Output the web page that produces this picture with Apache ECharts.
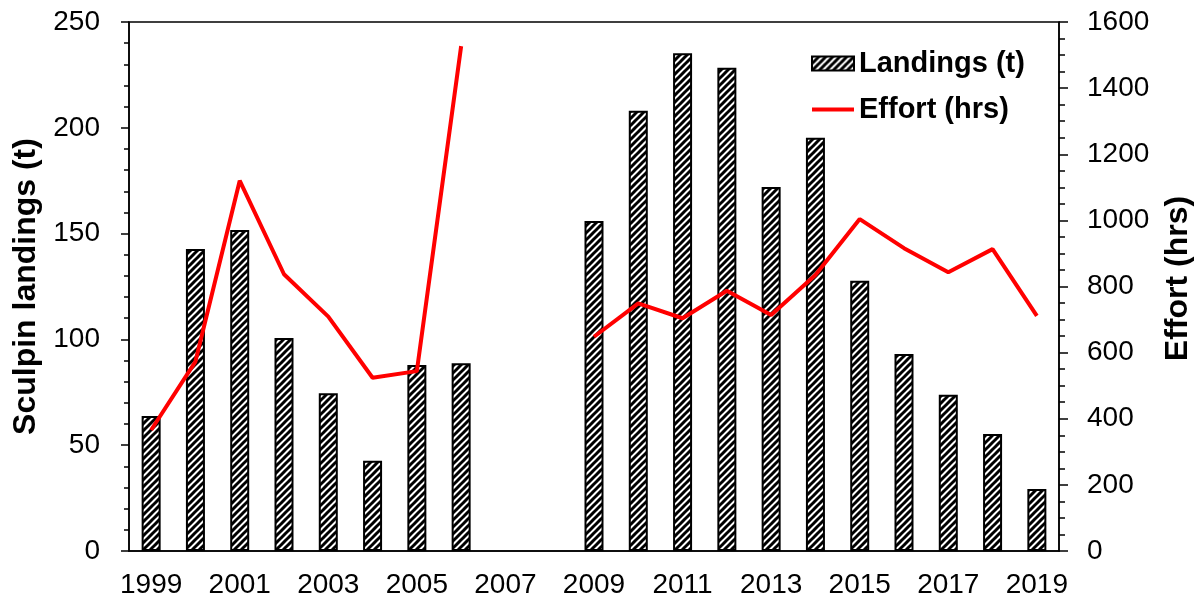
<!DOCTYPE html>
<html>
<head>
<meta charset="utf-8">
<script src="https://cdn.jsdelivr.net/npm/echarts@6/dist/echarts.min.js"></script>
<style>
html,body{margin:0;padding:0;background:#fff;}
#chart{width:1204px;height:605px;}
</style>
</head>
<body>
<div id="chart"></div>
<script>
var years = ['1999','2000','2001','2002','2003','2004','2005','2006','2007','2008','2009','2010','2011','2012','2013','2014','2015','2016','2017','2018','2019'];
var landings = [63.8,142.7,151.7,100.7,74.5,42.7,87.9,88.7,null,null,156,208,235.2,228.4,172,195.3,127.7,93.1,73.9,55.3,29.3];
var effort = [366,573,1120,837,709,524,544,1527,null,null,648,749,704,787,714,835,1004,916,843,913,711];

function makeHatch(){
  var s = 7;
  var c = document.createElement('canvas');
  c.width = s; c.height = s;
  var g = c.getContext('2d');
  g.fillStyle = '#fff'; g.fillRect(0,0,s,s);
  g.strokeStyle = '#000'; g.lineWidth = 3;
  g.beginPath();
  g.moveTo(-1, s+1); g.lineTo(s+1, -1);
  g.moveTo(-s-1, s+1); g.lineTo(1, -1);
  g.moveTo(s-1, s+1); g.lineTo(2*s+1, -1);
  g.stroke();
  return c;
}
var hatch = {image: makeHatch(), repeat: 'repeat'};

var font = 'Liberation Sans, Arial, sans-serif';
var chart = echarts.init(document.getElementById('chart'));
chart.setOption({
  animation: false,
  backgroundColor: '#fff',
  textStyle: {fontFamily: font},
  grid: {left: 129, right: 145, top: 22, bottom: 54, show: true, borderColor: '#000', borderWidth: 1.5, backgroundColor: 'transparent'},
  legend: {
    orient: 'vertical', left: 810, top: 48, padding: 0,
    itemWidth: 42, itemHeight: 14, itemGap: 15,
    textStyle: {fontFamily: font, fontWeight: 'bold', fontSize: 29, color: '#000', lineHeight: 31},
    data: [
      {name: 'Landings (t)', icon: 'rect'},
      {name: 'Effort (hrs)', itemStyle: {opacity: 0}, lineStyle: {width: 4, color: '#ff0000'}}
    ]
  },
  xAxis: {
    type: 'category', data: years, boundaryGap: true,
    axisLine: {lineStyle: {color: '#000', width: 1.5}},
    axisTick: {interval: 0, length: 6, lineStyle: {color: '#000', width: 1.5}},
    axisLabel: {interval: 1, margin: 20, fontSize: 28, color: '#000', fontFamily: font},
    splitLine: {show: false}
  },
  yAxis: [
    {
      type: 'value', min: 0, max: 250, interval: 50, position: 'left',
      name: 'Sculpin landings (t)', nameLocation: 'middle', nameRotate: 90, nameGap: 85,
      nameTextStyle: {fontSize: 32, fontWeight: 'bold', color: '#000', fontFamily: font},
      axisLine: {show: true, lineStyle: {color: '#000', width: 1.5}},
      axisTick: {show: true, length: 8, lineStyle: {color: '#000', width: 1.5}},
      minorTick: {show: true, splitNumber: 5, length: 5, lineStyle: {color: '#000', width: 1.5}},
      axisLabel: {margin: 29, fontSize: 28, color: '#000', fontFamily: font},
      splitLine: {show: false}
    },
    {
      type: 'value', min: 0, max: 1600, interval: 200, position: 'right',
      name: 'Effort (hrs)', nameLocation: 'middle', nameRotate: 90, nameGap: 103,
      nameTextStyle: {fontSize: 32, fontWeight: 'bold', color: '#000', fontFamily: font, padding: [0, 0, 0, 16]},
      axisLine: {show: true, lineStyle: {color: '#000', width: 1.5}},
      axisTick: {show: true, length: 9, lineStyle: {color: '#000', width: 1.5}},
      minorTick: {show: true, splitNumber: 4, length: 6, lineStyle: {color: '#000', width: 1.5}},
      axisLabel: {margin: 28, fontSize: 28, color: '#000', fontFamily: font, formatter: function(v){ return String(v); }},
      splitLine: {show: false}
    }
  ],
  series: [
    {
      name: 'Landings (t)', type: 'bar', yAxisIndex: 0, data: landings, barWidth: 19,
      itemStyle: {color: hatch, borderColor: '#000', borderWidth: 2}
    },
    {
      name: 'Effort (hrs)', type: 'line', yAxisIndex: 1, data: effort,
      symbol: 'none', connectNulls: false,
      lineStyle: {color: '#ff0000', width: 4},
      itemStyle: {color: '#ff0000'}
    }
  ]
});
</script>
</body>
</html>
